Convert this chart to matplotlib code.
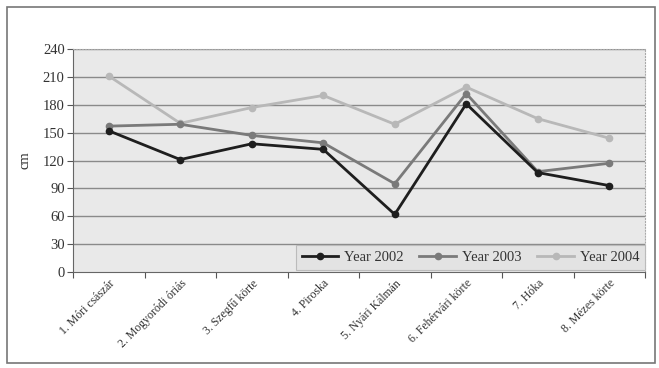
import matplotlib
matplotlib.use("Agg")
import matplotlib.pyplot as plt
from matplotlib.patches import Rectangle

categories = ["1. Móri császár", "2. Mogyoródi óriás", "3. Szegfű körte", "4. Piroska",
              "5. Nyári Kálmán", "6. Fehérvári körte", "7. Hóka", "8. Mézes körte"]
year2002 = [152, 121, 138, 132, 62, 181, 107, 93]
year2003 = [157, 159, 147, 139, 95, 192, 108, 117]
year2004 = [211, 160, 177, 190, 159, 199, 165, 144]
yticks = [0, 30, 60, 90, 120, 150, 180, 210, 240]

plt.rcParams['font.family'] = ['Liberation Serif', 'DejaVu Serif']

fig = plt.figure(figsize=(6.59, 3.68), dpi=100)
fig.patch.set_facecolor('white')
fig.add_artist(Rectangle((7/659, 5/368), 648/659, 356/368, transform=fig.transFigure,
                         fill=False, edgecolor='#777777', linewidth=1.2))

ax = fig.add_axes([73/659, 96/368, 572/659, 223/368])
ax.set_facecolor('#e9e9e9')
x = list(range(len(categories)))
for v in yticks[1:]:
    ax.axhline(v, color='#8a8a8a', linewidth=1.0, zorder=1)

ax.plot(x, year2004, color='#b8b8b8', marker='o', markersize=4.5, linewidth=2, label='Year 2004', zorder=3)
ax.plot(x, year2003, color='#7a7a7a', marker='o', markersize=4.5, linewidth=2, label='Year 2003', zorder=4)
ax.plot(x, year2002, color='#1e1e1e', marker='o', markersize=4.5, linewidth=2, label='Year 2002', zorder=5)

ax.set_xlim(-0.5, len(categories) - 0.5)
ax.set_ylim(0, 240)
ax.set_yticks(yticks)
ax.set_yticklabels([str(v) for v in yticks], fontsize=10.5, color='#333333')
ax.set_xticks([i + 0.5 for i in range(-1, len(categories))], minor=False)
ax.set_xticklabels([])
ax.set_xticks(x, minor=True)
ax.set_xticklabels(categories, minor=True, rotation=45, ha='right', va='top',
                   rotation_mode='anchor', fontsize=8.5, color='#333333')
ax.tick_params(axis='x', which='minor', length=0, pad=4)
ax.tick_params(axis='x', which='major', length=4, color='#555555', direction='out')
ax.tick_params(axis='y', length=4, color='#555555', direction='out', pad=2)
ax.set_ylabel('cm', fontsize=10.5, color='#333333', labelpad=8)
for s in ['top', 'right']:
    ax.spines[s].set_color('#aaaaaa')
    ax.spines[s].set_linestyle(':')
for s in ['left', 'bottom']:
    ax.spines[s].set_color('#666666')

h, l = ax.get_legend_handles_labels()
leg = ax.legend(h[::-1], l[::-1], loc='lower right', ncol=3, fontsize=10.5, frameon=True,
                fancybox=False, edgecolor='#bbbbbb', facecolor='#e3e3e3', framealpha=1,
                bbox_to_anchor=(1.0, 0.01), borderaxespad=0.0, handlelength=2.5,
                columnspacing=1.1, borderpad=0.4, handletextpad=0.4)
for t in leg.get_texts():
    t.set_color('#333333')
leg.get_frame().set_linewidth(0.8)
leg.set_zorder(6)

fig.savefig('out.png', dpi=100)
